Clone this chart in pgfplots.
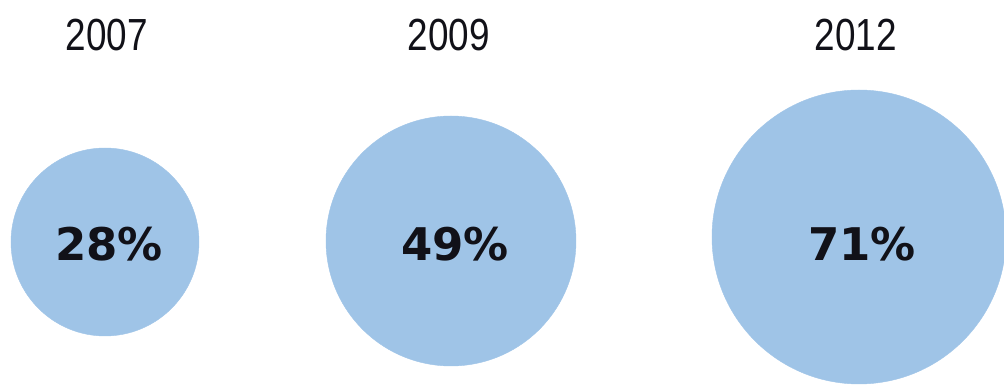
\documentclass[border=0pt]{standalone}
\usepackage{pgfplots}
\pgfplotsset{compat=1.18}
\usepackage{pgfplotstable}
\usepackage{fontspec}
\setmainfont{Liberation Sans}
\newfontfamily\condfont[FakeStretch=0.82]{Liberation Sans}
\newfontfamily\pctfont{DejaVu Sans Bold}
\definecolor{bub}{RGB}{159,196,231}
\definecolor{ink}{RGB}{17,17,24}

% circles: centre x, centre y (from bottom), radius (px), value (%)
\pgfplotstableread{
x y r v
105 145 94 28
451 146 125 49
859 150 147 71
}\circles
% value labels
\pgfplotstableread{
x y v
109 143 28
455 143 49
862 143 71
}\values
% year labels
\pgfplotstableread{
x y year
107 352 2007
449 352 2009
856 352 2012
}\years

\begin{document}
\begin{tikzpicture}
\path[use as bounding box] (0,0) rectangle (1004bp,387bp);
\begin{axis}[
  at={(0,0)}, anchor=south west,
  scale only axis, width=1004bp, height=387bp,
  xmin=0, xmax=1004, ymin=0, ymax=387,
  hide axis, clip=false,
]
\addplot[scatter, only marks, mark=*,
  scatter/use mapped color={draw=bub, fill=bub},
  visualization depends on={\thisrow{r} \as \rad},
  scatter/@pre marker code/.append style={/tikz/mark size=\rad bp}]
  table[x=x, y=y, meta=v] {\circles};
\addplot[only marks, mark=none, point meta=explicit symbolic,
  nodes near coords={\pctfont\fontsize{45bp}{54bp}\selectfont\pgfplotspointmeta\%},
  every node near coord/.append style={anchor=center, text=ink, inner sep=0pt}]
  table[x=x, y=y, meta=v] {\values};
\addplot[only marks, mark=none, point meta=explicit symbolic,
  nodes near coords={\condfont\fontsize{45bp}{54bp}\selectfont\pgfplotspointmeta},
  every node near coord/.append style={anchor=center, text=ink, inner sep=0pt}]
  table[x=x, y=y, meta=year] {\years};
\end{axis}
\end{tikzpicture}
\end{document}
